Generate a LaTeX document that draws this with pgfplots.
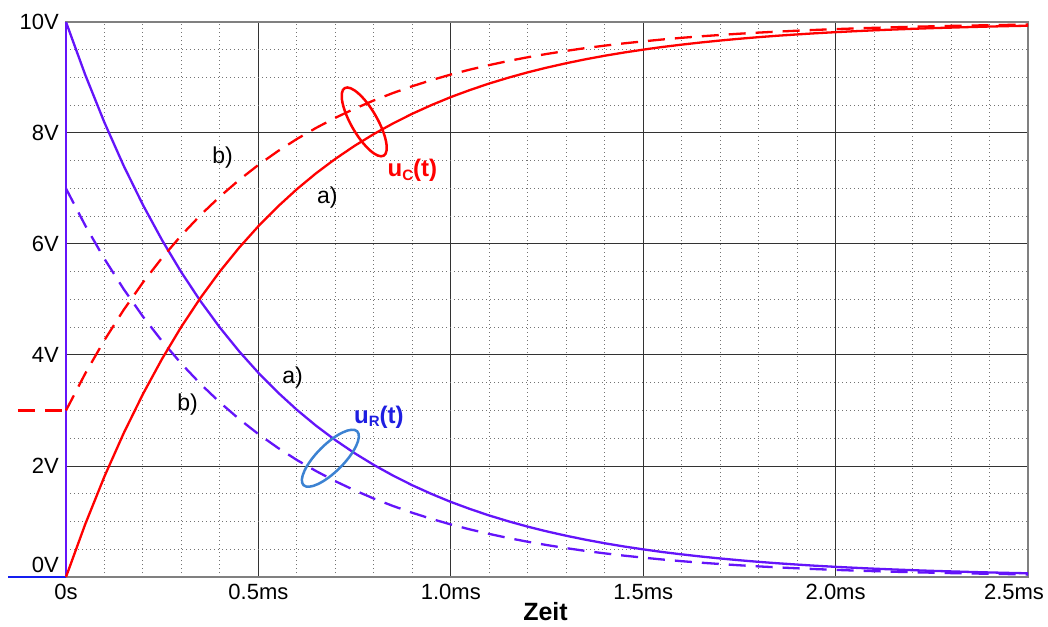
\documentclass[border=0pt]{standalone}
\usepackage{fontspec}
\setmainfont{Liberation Sans}
\usepackage{pgfplots}
\pgfplotsset{compat=1.18}
\usepackage{pgfplotstable}
\usetikzlibrary{shapes.geometric}
\definecolor{uv}{RGB}{100,20,250}
\definecolor{ub}{RGB}{20,30,240}
\definecolor{ulab}{RGB}{30,30,225}
\definecolor{ell}{RGB}{60,130,210}
\definecolor{ured}{RGB}{255,0,0}
\pgfplotstableread{
t uCa uRa uCb uRb
0.00 0.000 10.000 3.000 7.000
0.05 0.952 9.048 3.666 6.334
0.10 1.813 8.187 4.269 5.731
0.15 2.592 7.408 4.814 5.186
0.20 3.297 6.703 5.308 4.692
0.25 3.935 6.065 5.754 4.246
0.30 4.512 5.488 6.158 3.842
0.35 5.034 4.966 6.524 3.476
0.40 5.507 4.493 6.855 3.145
0.45 5.934 4.066 7.154 2.846
0.50 6.321 3.679 7.425 2.575
0.55 6.671 3.329 7.670 2.330
0.60 6.988 3.012 7.892 2.108
0.65 7.275 2.725 8.092 1.908
0.70 7.534 2.466 8.274 1.726
0.75 7.769 2.231 8.438 1.562
0.80 7.981 2.019 8.587 1.413
0.85 8.173 1.827 8.721 1.279
0.90 8.347 1.653 8.843 1.157
0.95 8.504 1.496 8.953 1.047
1.00 8.647 1.353 9.053 0.947
1.05 8.775 1.225 9.143 0.857
1.10 8.892 1.108 9.224 0.776
1.15 8.997 1.003 9.298 0.702
1.20 9.093 0.907 9.365 0.635
1.25 9.179 0.821 9.425 0.575
1.30 9.257 0.743 9.480 0.520
1.35 9.328 0.672 9.530 0.470
1.40 9.392 0.608 9.574 0.426
1.45 9.450 0.550 9.615 0.385
1.50 9.502 0.498 9.651 0.349
1.55 9.550 0.450 9.685 0.315
1.60 9.592 0.408 9.715 0.285
1.65 9.631 0.369 9.742 0.258
1.70 9.666 0.334 9.766 0.234
1.75 9.698 0.302 9.789 0.211
1.80 9.727 0.273 9.809 0.191
1.85 9.753 0.247 9.827 0.173
1.90 9.776 0.224 9.843 0.157
1.95 9.798 0.202 9.858 0.142
2.00 9.817 0.183 9.872 0.128
2.05 9.834 0.166 9.884 0.116
2.10 9.850 0.150 9.895 0.105
2.15 9.864 0.136 9.905 0.095
2.20 9.877 0.123 9.914 0.086
2.25 9.889 0.111 9.922 0.078
2.30 9.899 0.101 9.930 0.070
2.35 9.909 0.091 9.936 0.064
2.40 9.918 0.082 9.942 0.058
2.45 9.926 0.074 9.948 0.052
2.50 9.933 0.067 9.953 0.047
}\data
\begin{document}
\begin{tikzpicture}
\path[use as bounding box] (-66pt,-49pt) rectangle (982pt,577pt);
\begin{axis}[
  scale only axis, width=962pt, height=555pt,
  at={(0pt,0pt)}, anchor=south west,
  xmin=0, xmax=2.5, ymin=0, ymax=10,
  clip=false,
  axis line style={draw=gray, line width=1.5pt},
  major tick length=0pt, minor tick length=0pt,
  xtick={0,0.5,1,1.5,2},
  xticklabels={0s,0.5ms,1.0ms,1.5ms,2.0ms},
  extra x ticks={2.5}, extra x tick labels={2.5ms},
  extra x tick style={grid=none, xticklabel style={xshift=-14pt}},
  ytick={2,4,6,8,10},
  yticklabels={2V,4V,6V,8V,10V},
  extra y ticks={0}, extra y tick labels={0V},
  extra y tick style={grid=none, yticklabel style={yshift=12.5pt}},
  minor xtick={0.1,0.2,0.3,0.4,0.6,0.7,0.8,0.9,1.1,1.2,1.3,1.4,1.6,1.7,1.8,1.9,2.1,2.2,2.3,2.4},
  minor ytick={0.5,1,1.5,2.5,3,3.5,4.5,5,5.5,6.5,7,7.5,8.5,9,9.5},
  grid=both,
  major grid style={draw=black!80, line width=1pt, solid},
  minor grid style={draw=black!55, line width=1pt, dash pattern=on 1pt off 3pt},
  tick label style={font=\fontsize{22}{26}\selectfont, inner sep=0pt},
  xticklabel style={anchor=north, yshift=-7pt},
  yticklabel style={anchor=east, xshift=-7pt},
  xlabel={Zeit},
  xlabel style={font=\bfseries\fontsize{25}{29}\selectfont, at={(axis description cs:0.5,0)}, anchor=center, yshift=-34.5pt, xshift=-1.5pt, inner sep=0pt},
]
% pre-step segments
\addplot[ub, line width=2.3pt] coordinates {(-0.15,0) (0,0)};
\addplot[uv, line width=2.3pt] coordinates {(0,0) (0,10)};
% u_R curves
\addplot[uv, line width=2.3pt, dash pattern=on 17pt off 10pt] table[x=t, y=uRb] {\data};
\addplot[uv, line width=2.3pt] table[x=t, y=uRa] {\data};
% u_C curves
\addplot[ured, line width=2.3pt, dash pattern=on 17pt off 10pt] coordinates {(-0.125,3) (0,3)};
\addplot[ured, line width=2.3pt, dash pattern=on 17pt off 10pt] table[x=t, y=uCb] {\data};
\addplot[ured, line width=2.3pt] table[x=t, y=uCa] {\data};
% annotations
\node[draw=ured, line width=2.5pt, ellipse, minimum width=78pt, minimum height=26pt, inner sep=0pt, rotate=-60] at (axis cs:0.775,8.2) {};
\node[draw=ell, line width=2.5pt, ellipse, minimum width=76pt, minimum height=27pt, inner sep=0pt, rotate=45] at (axis cs:0.687,2.14) {};
\node[font=\fontsize{23}{27}\selectfont, inner sep=0pt] at (axis cs:0.407,7.55) {b)};
\node[font=\fontsize{23}{27}\selectfont, inner sep=0pt] at (axis cs:0.679,6.83) {a)};
\node[font=\fontsize{23}{27}\selectfont, inner sep=0pt] at (axis cs:0.589,3.59) {a)};
\node[font=\fontsize{23}{27}\selectfont, inner sep=0pt] at (axis cs:0.316,3.10) {b)};
\node[ured, font=\bfseries\fontsize{24}{28}\selectfont, inner sep=0pt] at (axis cs:0.900,7.32) {u\raisebox{-0.15em}{\fontsize{15}{15}\selectfont C}(t)};
\node[ulab, font=\bfseries\fontsize{24}{28}\selectfont, inner sep=0pt] at (axis cs:0.813,2.88) {u\raisebox{-0.15em}{\fontsize{15}{15}\selectfont R}(t)};
\end{axis}
\end{tikzpicture}
\end{document}
